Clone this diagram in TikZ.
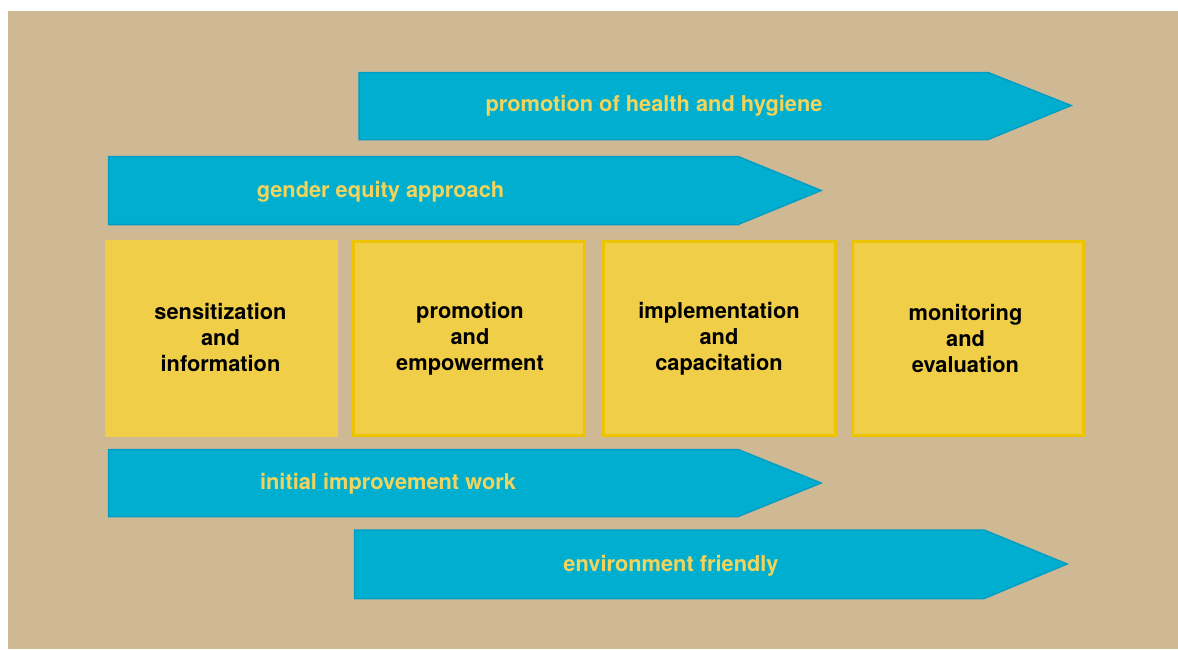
\documentclass[tikz,border=0pt]{standalone}
\usepackage{fontspec}
\setmainfont{TeX Gyre Heros}
\definecolor{bgtan}{HTML}{CFB995}
\definecolor{cyanfill}{HTML}{00AFCF}
\definecolor{cyanedge}{HTML}{009DC4}
\definecolor{yelfill}{HTML}{F0CE48}
\definecolor{yeledge}{HTML}{EEC300}
\definecolor{labelyel}{HTML}{F2D45C}
\tikzset{
  arrowshape/.style={fill=cyanfill, draw=cyanedge, line width=1.5pt, line join=miter},
  arrowlabel/.style={text=labelyel, font=\fontsize{21.8}{26}\selectfont\bfseries, inner sep=0pt, anchor=base},
  stagebox/.style={fill=yelfill, draw=yeledge, line width=3pt},
  stagetext/.style={text=black, font=\fontsize{21.8}{26}\selectfont\bfseries, align=center, inner sep=0pt}
}
\begin{document}
\begin{tikzpicture}[x=1pt,y=-1pt]
\useasboundingbox (0,0) rectangle (1178,649);
\fill[bgtan] (8,11) rectangle (1178,649);
% arrows
\draw[arrowshape] (359,72.5) -- (988,72.5) -- (1071,105.5) -- (988,139.5) -- (359,139.5) -- cycle;
\draw[arrowshape] (108.5,156.5) -- (738,156.5) -- (821,190.5) -- (738,224.5) -- (108.5,224.5) -- cycle;
\draw[arrowshape] (108.5,449.5) -- (738,449.5) -- (821,483) -- (738,516.5) -- (108.5,516.5) -- cycle;
\draw[arrowshape] (354.5,530) -- (984,530) -- (1067,564) -- (984,598.5) -- (354.5,598.5) -- cycle;
\node[arrowlabel] (l1) at (654,111) {promotion of health and hygiene};
\node[arrowlabel] (l2) at (380.5,197) {gender equity approach};
\node[arrowlabel] (l3) at (388,489) {initial improvement work};
\node[arrowlabel] (l4) at (671,571) {environment friendly};
% boxes
\fill[yelfill] (105,240) rectangle (338,437);
\node[stagetext] (b1) at (220.5,337) {sensitization\\and\\information};
\draw[stagebox] (353,241.5) rectangle (584,435.5);
\node[stagetext] (b2) at (470,339) {promotion\\and\\empowerment};
\draw[stagebox] (603.5,241.5) rectangle (835,435.5);
\node[stagetext] (b3) at (719,339) {implementation\\and\\capacitation};
\draw[stagebox] (852.5,241.5) rectangle (1083.5,435.5);
\node[stagetext] (b4) at (965.5,338.5) {monitoring\\and\\evaluation};
\end{tikzpicture}
\end{document}
